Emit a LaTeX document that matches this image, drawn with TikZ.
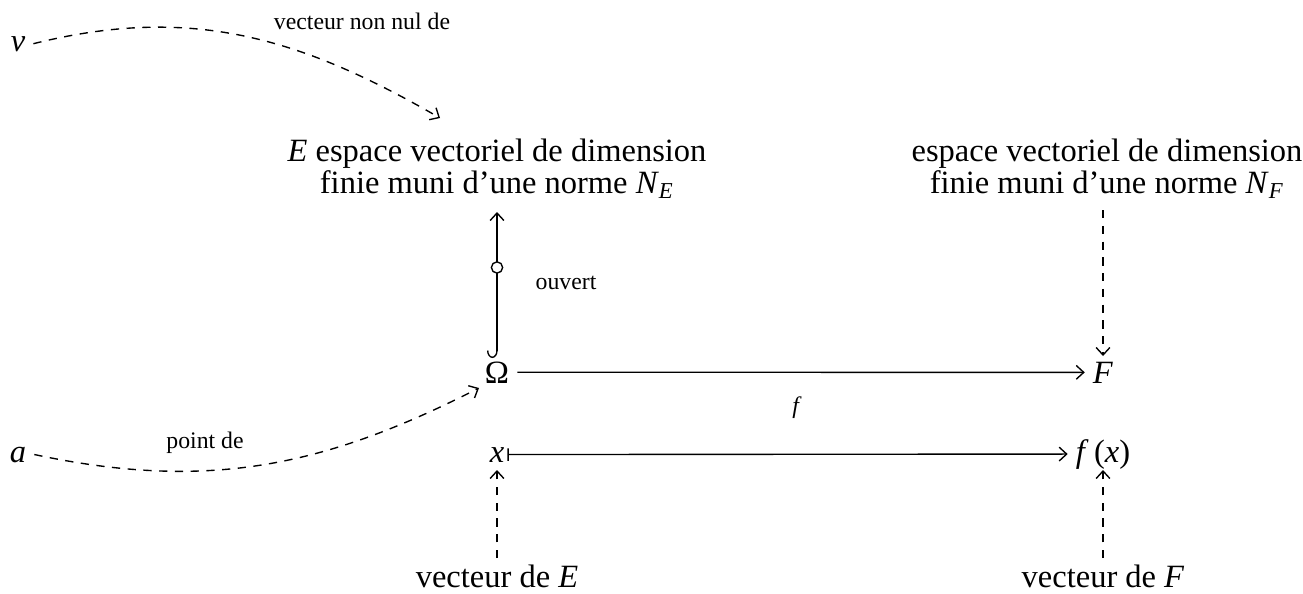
\documentclass[tikz,border=0pt]{standalone}
\usepackage{fontspec}
\setmainfont{Liberation Serif}
\usetikzlibrary{arrows.meta,cd}
\newcommand{\mi}[1]{\textit{#1}}
\begin{document}
\begin{tikzpicture}[x=0.4pt,y=-0.4pt,line width=0.55pt,
  every node/.style={font=\fontsize{13}{12.8}\selectfont},
  lbl/.style={font=\fontsize{9.5}{11}\selectfont},
  obj/.style={anchor=base,inner sep=3pt},
  tip/.style={-{Straight Barb[length=3pt,width=5.5pt]}},
  dsh/.style={dash pattern=on 3.3pt off 3pt,tip},
  circmark/.style={circle,draw,fill=white,inner sep=0pt,minimum size=4.5pt}]
\useasboundingbox (0,0) rectangle (1303,593);
\node[obj] (v) at (18,51) {\mi{v}};
\node[align=center] (E) at (497,169) {\mi{E} espace vectoriel de dimension\\ finie muni d'une norme \mi{N}\textsubscript{\mi{E}}};
\node[align=center] (Fs) at (1107,169) {espace vectoriel de dimension\\ finie muni d'une norme \mi{N}\textsubscript{\mi{F}}};
\node[obj] (O) at (497,383) {Ω};
\node[obj] (F) at (1103,383) {\mi{F}};
\node[obj] (a) at (18,462) {\mi{a}};
\node[obj,inner sep=1pt] (x) at (497,462) {\mi{x}};
\node[obj] (fx) at (1103,462) {\mi{f}\,(\mi{x})};
\node[obj] (vE) at (497,587) {vecteur de \mi{E}};
\node[obj] (vF) at (1103,587) {vecteur de \mi{F}};
\coordinate (Et) at (440,118);
\coordinate (Ot) at (479,388);
\coordinate (Fb) at (1103,210);
\coordinate (Ft) at (1103,356);
\coordinate (Eb) at (497,212);
\coordinate (Oh) at (497,358);
\coordinate (xb) at (497,470);
\coordinate (vEt) at (497,558);
\coordinate (fxb) at (1103,470);
\coordinate (vFt) at (1103,558);
\draw[dsh] (v.east) to[out=14,in=150] (Et);
\node[lbl] (l1) at (362,21) {vecteur non nul de};
\draw[{Hooks[right,length=3pt,width=8pt]}-{Straight Barb[length=3pt,width=5.5pt]}] (Oh) -- node[circmark,pos=0.62]{} (Eb);
\node[lbl] (l2) at (566,283) {ouvert};
\draw[tip] (O) -- (F);
\node[lbl] (l3) at (797,408) {\mi{f}};
\draw[dsh] (Fb) -- (Ft);
\draw[dsh] (a.east) to[out=-12,in=207] (Ot);
\node[lbl] (l4) at (205,443) {point de};
\draw[{Bar[width=5pt]}-{Straight Barb[length=3pt,width=5.5pt]}] (x) -- (fx);
\draw[dsh] (vEt) -- (xb);
\draw[dsh] (vFt) -- (fxb);
\end{tikzpicture}
\end{document}
